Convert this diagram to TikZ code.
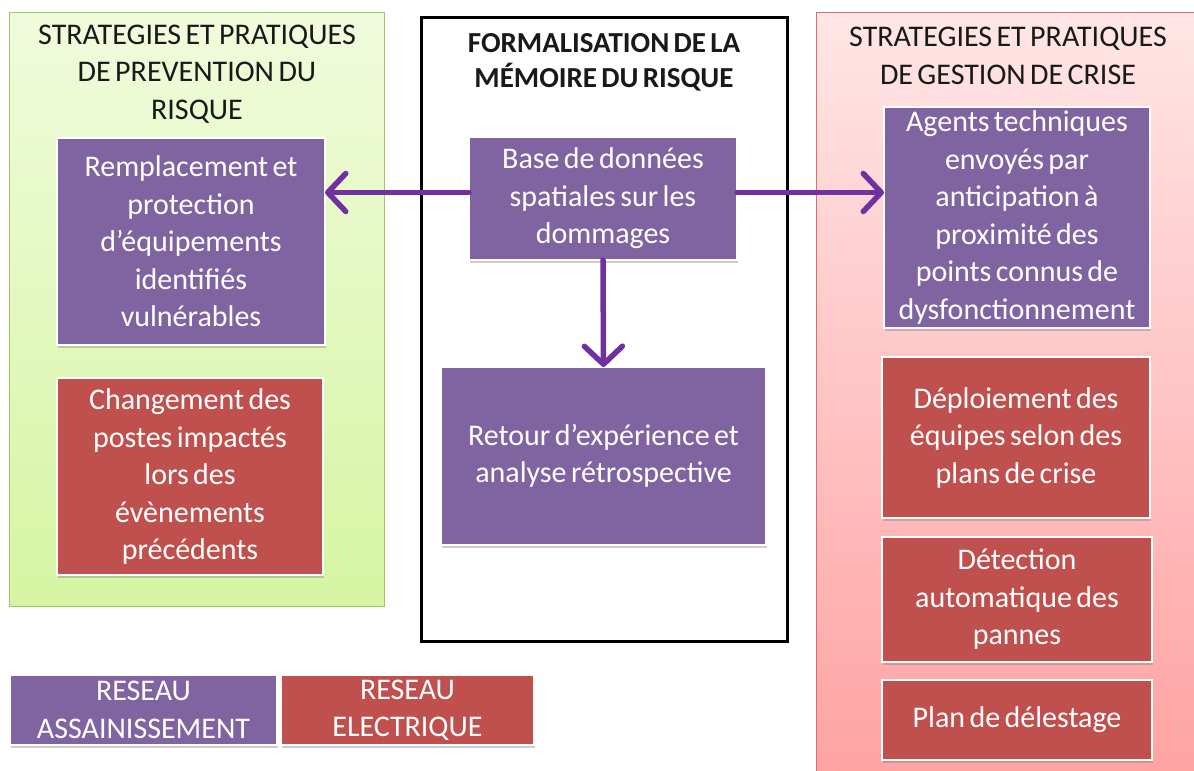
\documentclass[tikz,border=0pt]{standalone}
\usepackage{fontspec}
\setmainfont{Carlito}[WordSpace=0.65]
\usetikzlibrary{arrows.meta,shadows}
\definecolor{boxpurple}{HTML}{8064A2}
\definecolor{boxred}{HTML}{C0504D}
\definecolor{flowpurple}{HTML}{7030A0}
\definecolor{greentop}{HTML}{F0FBDC}
\definecolor{greenbot}{HTML}{D5F5A2}
\definecolor{greenline}{HTML}{A6C36A}
\definecolor{pinktop}{HTML}{FFE6E6}
\definecolor{pinkbot}{HTML}{FFA2A2}
\definecolor{pinkline}{HTML}{E06A6A}
\begin{document}
\begin{tikzpicture}[x=1pt,y=-1pt,
  every node/.style={font=\fontsize{30}{37.5}\selectfont},
  card/.style={draw=white, line width=2.5pt, text=white, align=center,
    inner sep=0pt, outer sep=0pt,
    drop shadow={opacity=0.4, shadow xshift=1pt, shadow yshift=-2.5pt}},
  sanit/.style={card, fill=boxpurple},
  elec/.style={card, fill=boxred},
  title/.style={align=center, text=black!90},
  flow/.style={draw=flowpurple, line width=5.5pt, line cap=round,
    -{Straight Barb[length=18pt,width=38pt,round]}}]
  \useasboundingbox (0,0) rectangle (1194,771);

  % fonds des trois colonnes
  \node[draw=greenline, line width=1pt, top color=greentop, bottom color=greenbot,
    minimum width=375pt, minimum height=594pt, inner sep=0pt] (prev) at (196.5,309) {};
  \node[draw=pinkline, line width=1pt, top color=pinktop, bottom color=pinkbot,
    minimum width=390pt, minimum height=770pt, inner sep=0pt] (crise) at (1011,397) {};
  \node[draw=black, line width=3pt, fill=white,
    minimum width=366pt, minimum height=624pt, inner sep=0pt] (memo) at (604,329) {};

  % titres
  \node[title] (tprev) at (197,74) {STRATEGIES ET PRATIQUES\\DE PREVENTION DU\\RISQUE};
  \node[title, font=\fontsize{29}{35}\selectfont\bfseries] (tmemo) at (604,62) {FORMALISATION DE LA\\MÉMOIRE DU RISQUE};
  \node[title] (tcrise) at (1008,56) {STRATEGIES ET PRATIQUES\\DE GESTION DE CRISE};

  % prevention
  \node[sanit, minimum width=268pt, minimum height=207pt] (rempl) at (191,241.5)
    {Remplacement et\\protection\\d’équipements\\identifiés\\vulnérables};
  \node[elec, minimum width=266pt, minimum height=197pt] (chang) at (190,476.5)
    {Changement des\\postes impactés\\lors des\\évènements\\précédents};

  % memoire
  \node[sanit, minimum width=268pt, minimum height=123pt] (base) at (603,198.5)
    {Base de données\\spatiales sur les\\dommages};
  \node[sanit, minimum width=325pt, minimum height=178pt] (retour) at (603.5,456)
    {Retour d’expérience et\\analyse rétrospective};

  % gestion de crise
  \node[sanit, minimum width=266pt, minimum height=221pt] (agents) at (1017,217.5)
    {Agents techniques\\envoyés par\\anticipation à\\proximité des\\points connus de\\dysfonctionnement};
  \node[elec, minimum width=268pt, minimum height=161pt] (deploi) at (1016,437.5)
    {Déploiement des\\équipes selon des\\plans de crise};
  \node[elec, minimum width=270pt, minimum height=125pt] (detect) at (1017,599.5)
    {Détection\\automatique des\\pannes};
  \node[elec, minimum width=270pt, minimum height=80pt] (delest) at (1017,720)
    {Plan de délestage};

  % legende
  \node[sanit, line width=1.5pt, minimum width=267pt, minimum height=70pt] (lsanit) at (143.5,710)
    {RESEAU\\ASSAINISSEMENT};
  \node[elec, line width=1.5pt, minimum width=253pt, minimum height=70pt] (lelec) at (407.5,710)
    {RESEAU\\ELECTRIQUE};

  % fleches
  \draw[flow] ([yshift=6pt]base.west) -- ([yshift=6pt]base.west -| rempl.east);
  \draw[flow] ([yshift=6pt]base.east) -- ([yshift=6pt]base.east -| agents.west);
  \draw[flow] (base.south) -- (retour.north);
\end{tikzpicture}
\end{document}
